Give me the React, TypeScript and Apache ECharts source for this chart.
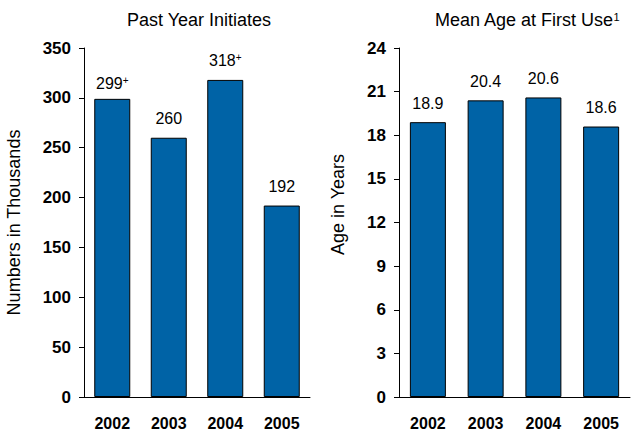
import React, { useEffect, useRef } from "react";
import * as echarts from "echarts";

const years = ["2002", "2003", "2004", "2005"];
const initiates = [299, 260, 318, 192];
const initiateMarks = ["+", "", "+", ""];
const meanAge = [18.9, 20.4, 20.6, 18.6];
const leftTitle = "Past Year Initiates";
const rightTitle = "Mean Age at First Use";
const rightTitleNote = "1";
const leftAxisName = "Numbers in Thousands";
const rightAxisName = "Age in Years";

const FONT = "'Liberation Sans', Arial, Helvetica, sans-serif";
const BAR = "#0063a6";

export default function App() {
  const ref = useRef<HTMLDivElement>(null);
  useEffect(() => {
    if (!ref.current) return;
    const chart = echarts.init(ref.current, null, { renderer: "svg" });
    const supStyle = { fontSize: 10, fontFamily: FONT, color: "#000", verticalAlign: "top", lineHeight: 10 };
    const valStyle = { fontSize: 16, fontFamily: FONT, color: "#000", lineHeight: 16 };
    const yAxisCommon = {
      type: "value",
      nameLocation: "middle",
      nameRotate: 90,
      axisLine: { show: true, lineStyle: { color: "#000", width: 1 } },
      axisTick: { show: true, length: 5, lineStyle: { color: "#000", width: 1 } },
      splitLine: { show: false },
      axisLabel: { color: "#000", fontSize: 17, fontWeight: "bold", fontFamily: FONT, margin: 13 },
    };
    const xAxisCommon = {
      type: "category",
      data: years,
      axisLine: { show: true, lineStyle: { color: "#000", width: 1 } },
      axisTick: { show: false },
      axisLabel: { color: "#000", fontSize: 16, fontWeight: "bold", fontFamily: FONT, margin: 18 },
    };
    chart.setOption({
      animation: false,
      backgroundColor: "#fff",
      title: [
        {
          text: leftTitle,
          left: 199,
          top: 11,
          textAlign: "center",
          padding: 0,
          textStyle: { fontSize: 18, fontWeight: "normal", color: "#000", fontFamily: FONT },
        },
        {
          text: `{t|${rightTitle}}{s|${rightTitleNote}}`,
          left: 527,
          top: 11,
          textAlign: "center",
          padding: 0,
          textStyle: {
            fontSize: 18,
            fontWeight: "normal",
            color: "#000",
            fontFamily: FONT,
            rich: {
              t: { fontSize: 18, fontFamily: FONT, color: "#000", lineHeight: 18 },
              s: { fontSize: 11, fontFamily: FONT, color: "#000", verticalAlign: "top", lineHeight: 11 },
            },
          },
        },
      ],
      grid: [
        { left: 84, top: 48, width: 226, height: 349, containLabel: false, outerBoundsMode: "none" },
        { left: 399, top: 48, width: 231, height: 349, containLabel: false, outerBoundsMode: "none" },
      ],
      xAxis: [
        { ...xAxisCommon, gridIndex: 0 },
        { ...xAxisCommon, gridIndex: 1 },
      ],
      yAxis: [
        {
          ...yAxisCommon,
          gridIndex: 0,
          min: 0,
          max: 350,
          interval: 50,
          name: leftAxisName,
          nameGap: 61,
          nameTextStyle: { fontSize: 18, color: "#000", fontFamily: FONT, padding: [0, 0, 0, 0] },
        },
        {
          ...yAxisCommon,
          gridIndex: 1,
          min: 0,
          max: 24,
          interval: 3,
          name: rightAxisName,
          nameGap: 52,
          nameTextStyle: { fontSize: 18, color: "#000", fontFamily: FONT, padding: [0, 0, 0, 36] },
        },
      ],
      series: [
        {
          type: "bar",
          xAxisIndex: 0,
          yAxisIndex: 0,
          barWidth: 36,
          itemStyle: { color: BAR, borderColor: "#000", borderWidth: 1 },
          data: initiates.map((v, i) => (i === 0 ? { value: v, label: { distance: 7 } } : v)),
          label: {
            show: true,
            position: "top",
            distance: 11,
            formatter: (p: any) =>
              initiateMarks[p.dataIndex] ? `{v|${p.value}}{s|${initiateMarks[p.dataIndex]}}` : `{v|${p.value}}`,
            rich: { v: valStyle, s: supStyle },
          },
        },
        {
          type: "bar",
          xAxisIndex: 1,
          yAxisIndex: 1,
          barWidth: 36,
          itemStyle: { color: BAR, borderColor: "#000", borderWidth: 1 },
          data: meanAge,
          label: {
            show: true,
            position: "top",
            distance: 11,
            formatter: (p: any) => `{v|${Number(p.value).toFixed(1)}}`,
            rich: { v: valStyle },
          },
        },
      ],
    });
    return () => chart.dispose();
  }, []);
  return (
    <div
      ref={ref}
      style={{ position: "fixed", left: 0, top: 0, width: 638, height: 438, background: "#fff" }}
    />
  );
}
